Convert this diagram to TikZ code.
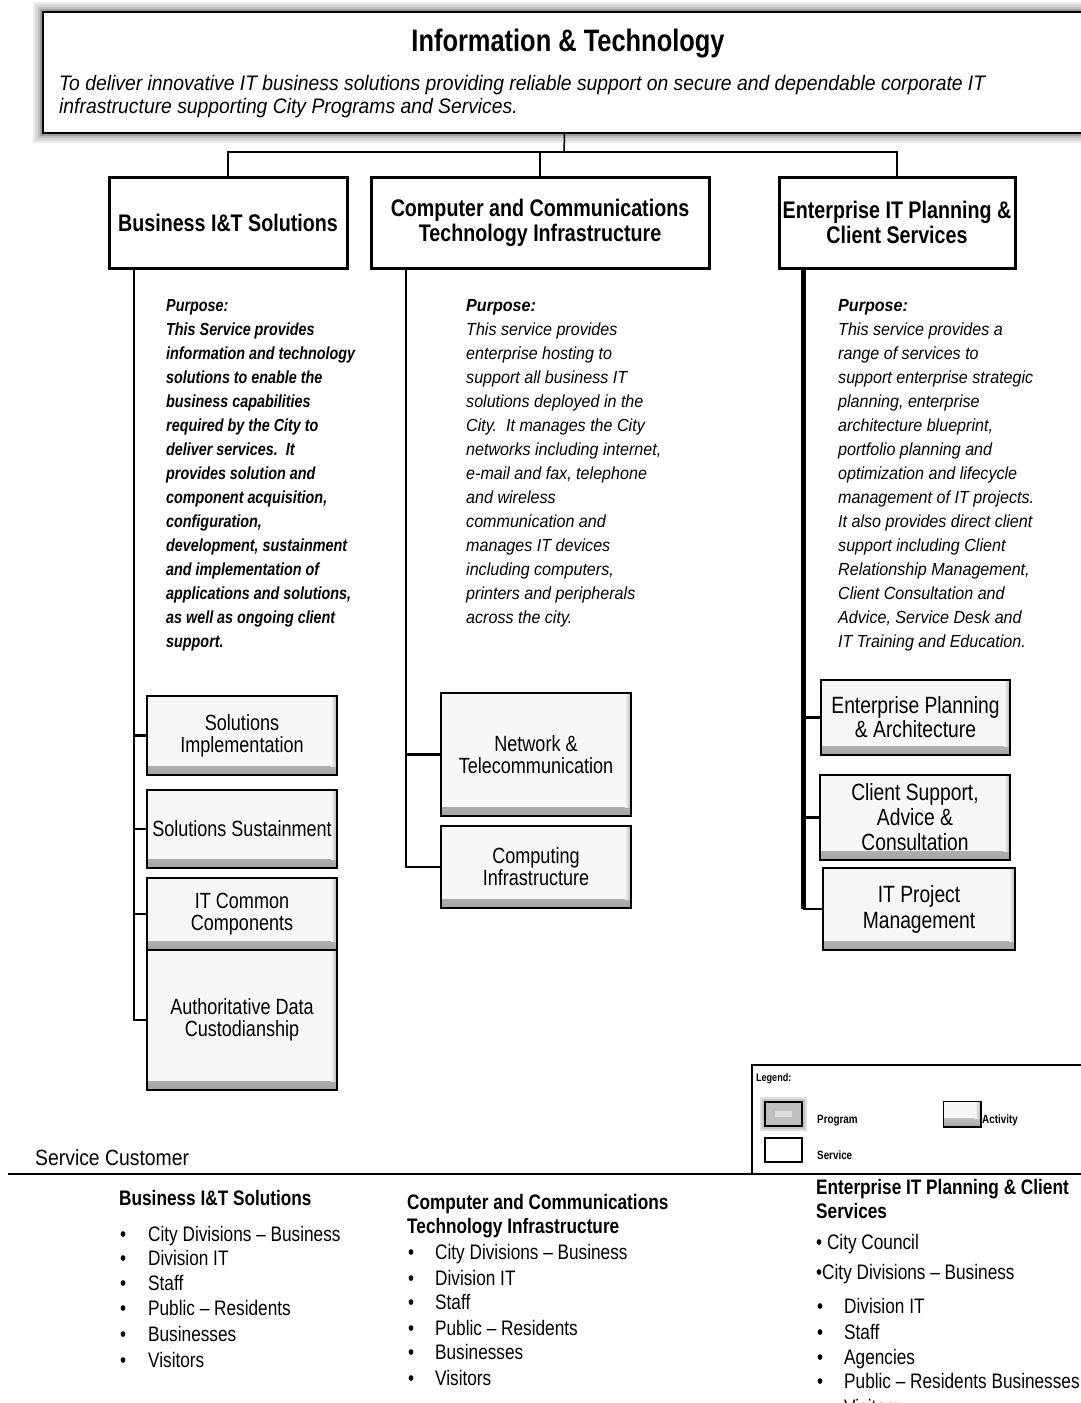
\documentclass[tikz,border=0pt]{standalone}
\usepackage{fontspec}
\setmainfont{Liberation Sans}[FakeStretch=0.82]
\newfontfamily\widefont{Liberation Sans}[FakeStretch=0.92]
\newfontfamily\midfont{Liberation Sans}[FakeStretch=0.88]
\newcommand\myfs[2]{\fontsize{#1}{#2}\selectfont}
\tikzset{
 conn/.style={line width=2.5pt},
 svcbox/.style={draw, line width=3pt, fill=white, align=center, inner sep=0pt, font=\myfs{24}{25}\bfseries},
 actbox/.style={draw=black, line width=1.3pt, fill=gray!6, align=center, inner sep=0pt, font=\myfs{22}{22},
   path picture={
     \shade[top color=gray!6, bottom color=gray!70] ([yshift=9pt]path picture bounding box.south west) rectangle (path picture bounding box.south east);
     \shade[left color=gray!6, right color=gray!60] ([xshift=-6pt]path picture bounding box.north east) rectangle ([yshift=9pt]path picture bounding box.south east);
     \draw[line width=2.5pt] (path picture bounding box.south west) -- (path picture bounding box.south east) -- (path picture bounding box.north east);
   }},
 lbl/.style={inner sep=0pt, anchor=base west},
 purp/.style={inner sep=0pt, anchor=north west, align=left, font=\myfs{17.5}{24}},
}
\begin{document}
\begin{tikzpicture}[x=1pt,y=-1pt]
\useasboundingbox (0,0) rectangle (1081,1403);
% program box with glow
\fill[gray!15] (33,2) rectangle (1095,143);
\fill[gray!30] (35,4) rectangle (1095,141);
\fill[gray!50] (38,7) rectangle (1095,138);
\fill[gray!75] (40,9) rectangle (1095,136);
\node[draw, line width=2pt, fill=white, minimum width=1043, minimum height=121, inner sep=0pt] (top) at (564.5,72.5) {};
\node[lbl, font=\myfs{31}{34}\bfseries, anchor=base] (title) at (568,51) {Information \& Technology};
\node[purp, font=\widefont\myfs{21}{23}\itshape] (mission) at (59,75) {To deliver innovative IT business solutions providing reliable support on secure and dependable corporate IT\\infrastructure supporting City Programs and Services.};

% service boxes
\node[svcbox, minimum width=238, minimum height=91] (s1) at (228,222.5) {Business I\&T Solutions};
\node[svcbox, minimum width=338, minimum height=91] (s2) at (540,222.5) {Computer and Communications\\Technology Infrastructure};
\node[svcbox, minimum width=236, minimum height=91] (s3) at (897,222.5) {Enterprise IT Planning \&\\Client Services};

\coordinate (bar) at (564,152);
\draw[line width=1.5pt] (top.south) -- (bar);
\draw[conn] (s1.north) -- (s1.north |- bar) -- (s3.north |- bar) -- (s3.north);
\draw[conn] (s2.north) -- (s2.north |- bar);

% purpose texts
\node[purp, font=\myfs{17.5}{24}\bfseries\itshape] (p1) at (166,299) {Purpose:\\This Service provides\\information and technology\\solutions to enable the\\business capabilities\\required by the City to\\deliver services.\ \ It\\provides solution and\\component acquisition,\\configuration,\\development, sustainment\\and implementation of\\applications and solutions,\\as well as ongoing client\\support.};
\node[purp, font=\widefont\myfs{17.5}{24}\itshape] (p2) at (466,299) {\textbf{Purpose:}\\This service provides\\enterprise hosting to\\support all business IT\\solutions deployed in the\\City.\ \ It manages the City\\networks including internet,\\e-mail and fax, telephone\\and wireless\\communication and\\manages IT devices\\including computers,\\printers and peripherals\\across the city.};
\node[purp, font=\widefont\myfs{17.5}{24}\itshape] (p3) at (838,299) {\textbf{Purpose:}\\This service provides a\\range of services to\\support enterprise strategic\\planning, enterprise\\architecture blueprint,\\portfolio planning and\\optimization and lifecycle\\management of IT projects.\\It also provides direct client\\support including Client\\Relationship Management,\\Client Consultation and\\Advice, Service Desk and\\IT Training and Education.};

% activities
\node[actbox, minimum width=190, minimum height=79] (a11) at (242,735.5) {Solutions\\Implementation};
\node[actbox, minimum width=190, minimum height=78] (a12) at (242,829) {Solutions Sustainment};
\node[actbox, minimum width=190, minimum height=72] (a13) at (242,914) {IT Common\\Components};
\node[actbox, minimum width=190, minimum height=140] (a14) at (242,1020) {Authoritative Data\\Custodianship};
\node[actbox, minimum width=190, minimum height=123] (a21) at (536,754.5) {Network \&\\Telecommunication};
\node[actbox, minimum width=190, minimum height=82] (a22) at (536,867) {Computing\\Infrastructure};
\node[actbox, minimum width=189, minimum height=75, font=\myfs{23.5}{24}] (a31) at (915.5,717.5) {Enterprise Planning\\\& Architecture};
\node[actbox, minimum width=190, minimum height=85, font=\myfs{23.5}{25}] (a32) at (915,817.5) {Client Support,\\Advice \&\\Consultation};
\node[actbox, minimum width=192, minimum height=82, font=\myfs{23.5}{26}] (a33) at (919,909) {IT Project\\Management};

% spines
\coordinate (sp1) at (134,268);
\coordinate (sp2) at (406,268);
\coordinate (sp3) at (803,268);
\draw[conn] (sp1) |- (a14.west);
\foreach \n in {a11,a12,a13} \draw[conn] (sp1 |- \n.west) -- (\n.west);
\draw[conn] (sp2) |- (a22.west);
\draw[conn] (sp2 |- a21.west) -- (a21.west);
\draw[line width=5pt] (sp3) -- (sp3 |- a33.west);
\draw[conn] (sp3 |- a33.west) -- (a33.west);
\foreach \n in {a31,a32} \draw[conn] (sp3 |- \n.west) -- (\n.west);

% legend
\coordinate (lgA) at (752,1173);
\coordinate (lgB) at (1090,1065);
\draw[line width=2.5pt] (lgA) |- (lgB);
\node[lbl, font=\myfs{11}{12}\bfseries] (lgt) at (756,1081) {Legend:};
\fill[gray!25] (760,1097) rectangle (807,1131);
\fill[gray!45] (762,1099) rectangle (805,1129);
\node[draw, line width=1.5pt, fill=gray!50, minimum width=37, minimum height=24, inner sep=0pt] (lgprog) at (783.5,1114) {};
\fill[gray!25] (775,1111) rectangle (792,1117);
\node[lbl, font=\myfs{12}{13}\bfseries] (lgpt) at (817,1123) {Program};
\node[actbox, minimum width=38, minimum height=26, line width=1pt] (lgact) at (962,1114) {};
\node[lbl, font=\myfs{12}{13}\bfseries] (lgat) at (982,1123) {Activity};
\node[draw, line width=2.5pt, fill=white, minimum width=37, minimum height=24, inner sep=0pt] (lgsvc) at (783.5,1150) {};
\node[lbl, font=\myfs{12}{13}\bfseries] (lgst) at (817,1159) {Service};

% service customer
\node[lbl, font=\midfont\myfs{22}{22}] (sc) at (35,1165) {Service Customer};
\coordinate (hl1) at (8,1174);
\coordinate (hl2) at (1090,1174);
\draw[line width=2.5pt] (hl1) -- (hl2);

\tikzset{bul/.style={lbl, font=\myfs{21}{21}}, bhd/.style={lbl, font=\myfs{21}{24}\bfseries}}
\node[bhd] (h1) at (119,1205) {Business I\&T Solutions};
\foreach \t/\yy [count=\i] in {City Divisions – Business/1241, Division IT/1265, Staff/1290, Public – Residents/1315, Businesses/1341, Visitors/1367}
  \node[bul] (c1\i) at (120,\yy) {\makebox[28pt][l]{•}\t};

\node[bhd, align=left, anchor=north west] (h2) at (407,1194) {Computer and Communications\\Technology Infrastructure};
\foreach \t/\yy [count=\i] in {City Divisions – Business/1259, Division IT/1285, Staff/1309, Public – Residents/1335, Businesses/1359, Visitors/1385}
  \node[bul] (c2\i) at (408,\yy) {\makebox[27pt][l]{•}\t};

\node[bhd, align=left, anchor=north west] (h3) at (816,1179) {Enterprise IT Planning \& Client\\Services};
\node[bul] (c3a) at (816,1249) {•\ City Council};
\node[bul] (c3b) at (816,1279) {•City Divisions – Business};
\foreach \t/\yy [count=\i] in {Division IT/1313, Staff/1339, Agencies/1364, Public – Residents Businesses/1388, Visitors/1414}
  \node[bul] (c3\i) at (817,\yy) {\makebox[27pt][l]{•}\t};
\end{tikzpicture}
\end{document}
